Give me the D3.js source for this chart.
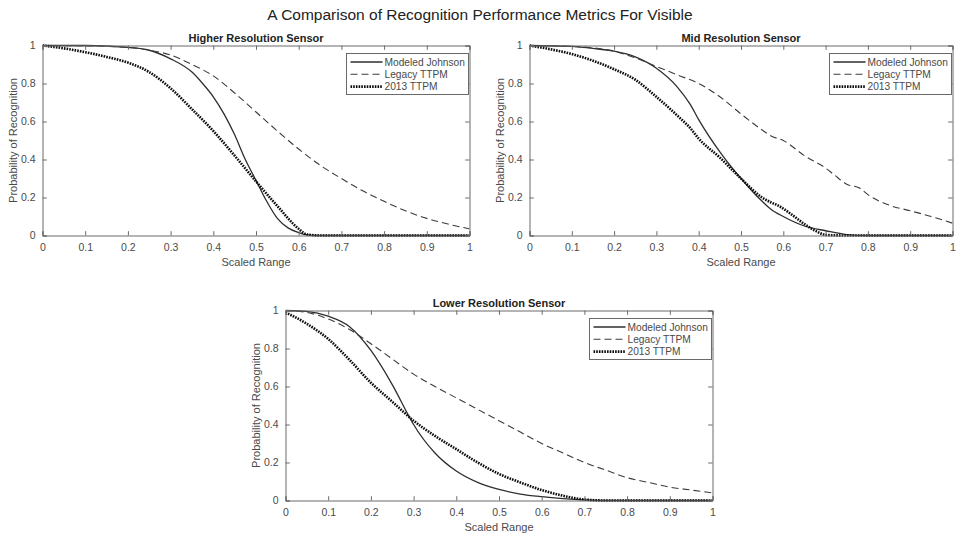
<!DOCTYPE html>
<html>
<head>
<meta charset="utf-8">
<script src="https://cdn.jsdelivr.net/npm/d3@7"></script>
<style>
  html, body { margin: 0; padding: 0; background: #fff; }
  svg { display: block; font-family: "Liberation Sans", Arial, Helvetica, sans-serif; }
</style>
</head>
<body>
<svg id="chart" width="957" height="535"></svg>
<script>
// ---- Data -------------------------------------------------------------
const mainTitle = "A Comparison of Recognition Performance Metrics For Visible";
const seriesNames = ["Modeled Johnson", "Legacy TTPM", "2013 TTPM"];
const xTicks = [0, 0.1, 0.2, 0.3, 0.4, 0.5, 0.6, 0.7, 0.8, 0.9, 1];
const yTicks = [0, 0.2, 0.4, 0.6, 0.8, 1];

// Higher resolution sensor
const hiJohnsonX = [0, 0.1, 0.2, 0.25, 0.3, 0.35, 0.375, 0.4, 0.425, 0.45, 0.475, 0.5, 0.525, 0.55, 0.575, 0.6, 0.62, 0.65, 1];
const hiJohnsonY = [1, 1, 0.99, 0.975, 0.93, 0.86, 0.8, 0.73, 0.64, 0.53, 0.4, 0.29, 0.18, 0.09, 0.04, 0.015, 0.003, 0, 0];
const hiLegacyX  = [0, 0.1, 0.2, 0.25, 0.3, 0.35, 0.4, 0.45, 0.5, 0.55, 0.6, 0.65, 0.7, 0.75, 0.8, 0.85, 0.9, 0.95, 1];
const hiLegacyY  = [1, 0.998, 0.99, 0.975, 0.95, 0.9, 0.84, 0.75, 0.65, 0.55, 0.455, 0.37, 0.3, 0.235, 0.18, 0.13, 0.09, 0.06, 0.035];
const hi2013X    = [0, 0.05, 0.1, 0.15, 0.2, 0.25, 0.3, 0.35, 0.4, 0.45, 0.5, 0.55, 0.6, 0.62, 0.65, 1];
const hi2013Y    = [1, 0.985, 0.965, 0.94, 0.91, 0.86, 0.775, 0.665, 0.55, 0.42, 0.285, 0.155, 0.035, 0.005, 0, 0];

// Mid resolution sensor
const midJohnsonX = [0, 0.1, 0.15, 0.2, 0.25, 0.3, 0.35, 0.38, 0.4, 0.45, 0.5, 0.55, 0.57, 0.6, 0.65, 0.7, 0.75, 0.8, 1];
const midJohnsonY = [1, 0.995, 0.985, 0.97, 0.94, 0.88, 0.78, 0.69, 0.61, 0.44, 0.3, 0.18, 0.14, 0.1, 0.05, 0.025, 0.005, 0, 0];
const midLegacyX  = [0, 0.1, 0.2, 0.25, 0.3, 0.35, 0.4, 0.45, 0.5, 0.55, 0.57, 0.6, 0.65, 0.7, 0.72, 0.75, 0.78, 0.8, 0.85, 0.9, 0.95, 1];
const midLegacyY  = [1, 0.995, 0.97, 0.935, 0.89, 0.845, 0.8, 0.73, 0.64, 0.555, 0.525, 0.5, 0.42, 0.355, 0.32, 0.27, 0.25, 0.215, 0.16, 0.13, 0.1, 0.065];
const mid2013X    = [0, 0.05, 0.1, 0.15, 0.2, 0.25, 0.3, 0.35, 0.38, 0.4, 0.45, 0.5, 0.55, 0.57, 0.59, 0.62, 0.65, 0.68, 0.7, 0.75, 1];
const mid2013Y    = [1, 0.98, 0.955, 0.92, 0.875, 0.82, 0.73, 0.63, 0.565, 0.51, 0.41, 0.3, 0.2, 0.175, 0.155, 0.11, 0.06, 0.02, 0.003, 0, 0];

// Lower resolution sensor
const loJohnsonX = [0, 0.05, 0.1, 0.15, 0.2, 0.25, 0.29, 0.3, 0.35, 0.4, 0.45, 0.5, 0.55, 0.6, 0.65, 0.7, 0.75, 1];
const loJohnsonY = [1, 0.995, 0.97, 0.915, 0.79, 0.61, 0.44, 0.4, 0.25, 0.155, 0.095, 0.058, 0.034, 0.02, 0.01, 0.003, 0, 0];
const loLegacyX  = [0, 0.05, 0.1, 0.15, 0.2, 0.25, 0.3, 0.35, 0.4, 0.45, 0.5, 0.55, 0.6, 0.65, 0.7, 0.75, 0.8, 0.85, 0.9, 0.95, 1];
const loLegacyY  = [1, 0.99, 0.955, 0.9, 0.825, 0.745, 0.665, 0.6, 0.54, 0.48, 0.42, 0.36, 0.3, 0.25, 0.2, 0.16, 0.12, 0.095, 0.07, 0.055, 0.04];
const lo2013X    = [0, 0.05, 0.1, 0.15, 0.2, 0.25, 0.3, 0.35, 0.4, 0.45, 0.5, 0.55, 0.6, 0.65, 0.7, 0.75, 1];
const lo2013Y    = [0.99, 0.93, 0.85, 0.74, 0.62, 0.52, 0.42, 0.34, 0.27, 0.2, 0.14, 0.095, 0.055, 0.025, 0.005, 0, 0];

// ---- Drawing ----------------------------------------------------------
const svg = d3.select("#chart");
const axisColor = "#6a6a6a";
const textColor = "#4a4a4a";

const lineStyles = [
  { stroke: "#2e2e2e", width: 1.3, dash: null },
  { stroke: "#3c3c3c", width: 1.1, dash: "7,4" },
  { stroke: "#0d0d0d", width: 2.6, dash: "1.6,1.1" }
];

svg.append("text")
  .attr("x", 480).attr("y", 20)
  .attr("text-anchor", "middle")
  .attr("font-size", 15.5)
  .attr("fill", "#222")
  .text(mainTitle);

function zip(xs, ys) { return xs.map((x, i) => [x, ys[i]]); }

function drawPanel(opts) {
  const { left, right, top, bottom, title, series } = opts;
  const x = d3.scaleLinear().domain([0, 1]).range([left, right]);
  const y = d3.scaleLinear().domain([0, 1]).range([bottom, top]);
  const g = svg.append("g");
  const tickLen = 4.3;

  // clip so curves stay inside the axes box
  const clipId = "clip-" + Math.round(left) + "-" + Math.round(top);
  svg.append("clipPath").attr("id", clipId)
    .append("rect").attr("x", left).attr("y", top - 2)
    .attr("width", right - left).attr("height", bottom - top + 4);

  // curves
  const line = d3.line().x(d => x(d[0])).y(d => y(d[1])).curve(d3.curveMonotoneX);
  const curves = g.append("g").attr("clip-path", `url(#${clipId})`);
  series.forEach((s, i) => {
    const st = lineStyles[i];
    curves.append("path")
      .attr("d", line(zip(s[0], s[1])))
      .attr("fill", "none")
      .attr("stroke", st.stroke)
      .attr("stroke-width", st.width)
      .attr("stroke-dasharray", st.dash)
      .attr("stroke-linejoin", "round");
  });

  // bottom axis with inward ticks, plus mirrored top ticks
  const xAxis = d3.axisBottom(x).tickValues(xTicks).tickSize(-tickLen).tickPadding(8)
    .tickFormat(d3.format("~g"));
  const gx = g.append("g").attr("transform", `translate(0,${bottom})`).call(xAxis);
  const xTop = d3.axisTop(x).tickValues(xTicks).tickSize(-tickLen).tickFormat("");
  const gxt = g.append("g").attr("transform", `translate(0,${top})`).call(xTop);

  const yAxis = d3.axisLeft(y).tickValues(yTicks).tickSize(-tickLen).tickPadding(7)
    .tickFormat(d3.format("~g"));
  const gy = g.append("g").attr("transform", `translate(${left},0)`).call(yAxis);
  const yRight = d3.axisRight(y).tickValues(yTicks).tickSize(-tickLen).tickFormat("");
  const gyr = g.append("g").attr("transform", `translate(${right},0)`).call(yRight);

  [gx, gxt, gy, gyr].forEach(a => {
    a.select(".domain").attr("stroke", axisColor).attr("stroke-width", 1);
    a.selectAll(".tick line").attr("stroke", axisColor);
    a.selectAll("text").attr("fill", textColor).attr("font-size", 10.5)
      .attr("font-family", "Liberation Sans, Arial, sans-serif");
  });
  gx.selectAll(".tick text").attr("dy", "0.71em");

  // axis labels
  g.append("text")
    .attr("x", (left + right) / 2).attr("y", bottom + 30.5)
    .attr("text-anchor", "middle").attr("font-size", 11).attr("fill", textColor)
    .text("Scaled Range");
  g.append("text")
    .attr("transform", `translate(${left - 29},${(top + bottom) / 2}) rotate(-90)`)
    .attr("text-anchor", "middle").attr("dy", "0.35em")
    .attr("font-size", 11).attr("fill", textColor)
    .text("Probability of Recognition");

  // subplot title
  g.append("text")
    .attr("x", (left + right) / 2).attr("y", top - 4)
    .attr("text-anchor", "middle").attr("font-size", 11)
    .attr("font-weight", "bold").attr("fill", "#222")
    .text(title);

  // legend (north-east)
  const lw = 122, lh = 41;
  const lx = right - lw - 1, ly = top + 8;
  const lg = g.append("g");
  lg.append("rect").attr("x", lx).attr("y", ly).attr("width", lw).attr("height", lh)
    .attr("fill", "#fff").attr("stroke", axisColor).attr("stroke-width", 1);
  seriesNames.forEach((name, i) => {
    const st = lineStyles[i];
    const yy = ly + 8.5 + i * 12.3;
    lg.append("line")
      .attr("x1", lx + 4).attr("x2", lx + 36).attr("y1", yy).attr("y2", yy)
      .attr("stroke", st.stroke).attr("stroke-width", st.width)
      .attr("stroke-dasharray", st.dash);
    lg.append("text")
      .attr("x", lx + 38).attr("y", yy).attr("dy", "0.35em")
      .attr("font-size", 10.2).attr("fill", textColor)
      .text(name);
  });
}

drawPanel({
  left: 42.5, right: 469.5, top: 45.5, bottom: 235.5,
  title: "Higher Resolution Sensor",
  series: [[hiJohnsonX, hiJohnsonY], [hiLegacyX, hiLegacyY], [hi2013X, hi2013Y]]
});
drawPanel({
  left: 529.5, right: 952.5, top: 45.5, bottom: 235.5,
  title: "Mid Resolution Sensor",
  series: [[midJohnsonX, midJohnsonY], [midLegacyX, midLegacyY], [mid2013X, mid2013Y]]
});
drawPanel({
  left: 285.5, right: 712.5, top: 310.5, bottom: 500.5,
  title: "Lower Resolution Sensor",
  series: [[loJohnsonX, loJohnsonY], [loLegacyX, loLegacyY], [lo2013X, lo2013Y]]
});
</script>
</body>
</html>
